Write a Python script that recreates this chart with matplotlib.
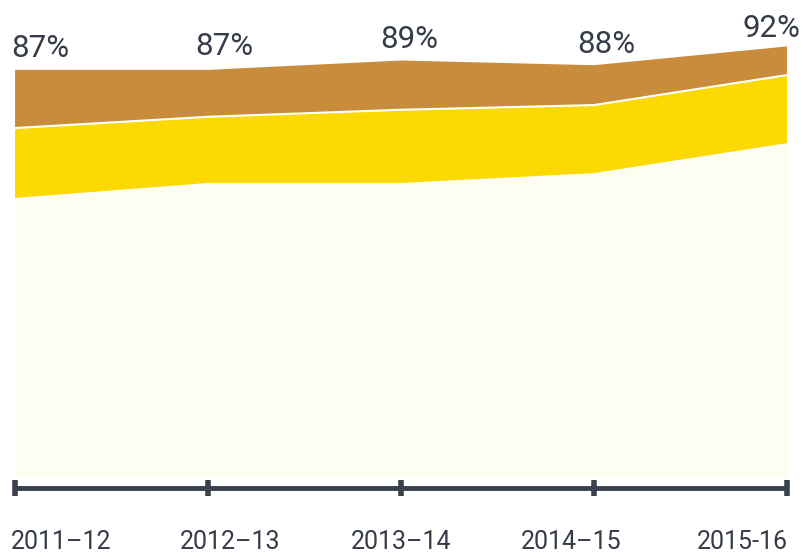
import numpy as np
import matplotlib.pyplot as plt

# 数据
years = ['2011–12', '2012–13', '2013–14', '2014–15', '2015-16']
totals = [87, 87, 89, 88, 92]
base = [59.7, 62.9, 62.9, 65.0, 71.4]     # pale layer
middle = [14.9, 14.1, 15.6, 14.5, 14.5]   # yellow layer
top = [12.4, 10.0, 10.5, 8.5, 6.1]        # brown layer

x = np.arange(len(years))

plt.rcParams['font.family'] = ['Roboto', 'DejaVu Sans']

fig = plt.figure(figsize=(8.04, 5.58), dpi=100)
ax = fig.add_axes([0, 0, 1, 1])

ax.stackplot(x, base, middle, top,
             colors=['#fefdf1', '#fcd900', '#c98b3c'], linewidth=0)
# thin white seam between yellow and brown
ax.plot(x, np.array(base) + np.array(middle), color='white', lw=1.5)

# axis line with ticks
axis_col = '#3a414d'
ax.plot([x[0], x[-1]], [-2.1, -2.1], color=axis_col, lw=3.5, solid_capstyle='butt')
ax.plot(x, [-2.1] * len(x), ls='none', marker='|', ms=12, mew=4, color=axis_col)

# percentage labels
lab_col = '#353c48'
pct_off = [(-3, 9.4), (12, 10.8), (6, 9), (9, 8.9), (-11, 6.8)]
for i, t in enumerate(totals):
    ax.annotate(f'{t}%', (x[i], t), xytext=pct_off[i], textcoords='offset points',
                ha='center' if i else 'left', va='baseline', fontsize=22.5, color=lab_col)

# year labels
yr_off = [(-3, 0), (16, 0), (0, 0), (-16.5, 0), (1, 0)]
yr_ha = ['left', 'center', 'center', 'center', 'right']
for i, y in enumerate(years):
    ax.annotate(y, (x[i], -13.6), xytext=yr_off[i], textcoords='offset points',
                ha=yr_ha[i], va='center', fontsize=18, color=lab_col)

ax.set_xlim(-0.078, 4.088)
ax.set_ylim(-17.06, 101.9)
ax.axis('off')

plt.savefig('out.png', dpi=100)
